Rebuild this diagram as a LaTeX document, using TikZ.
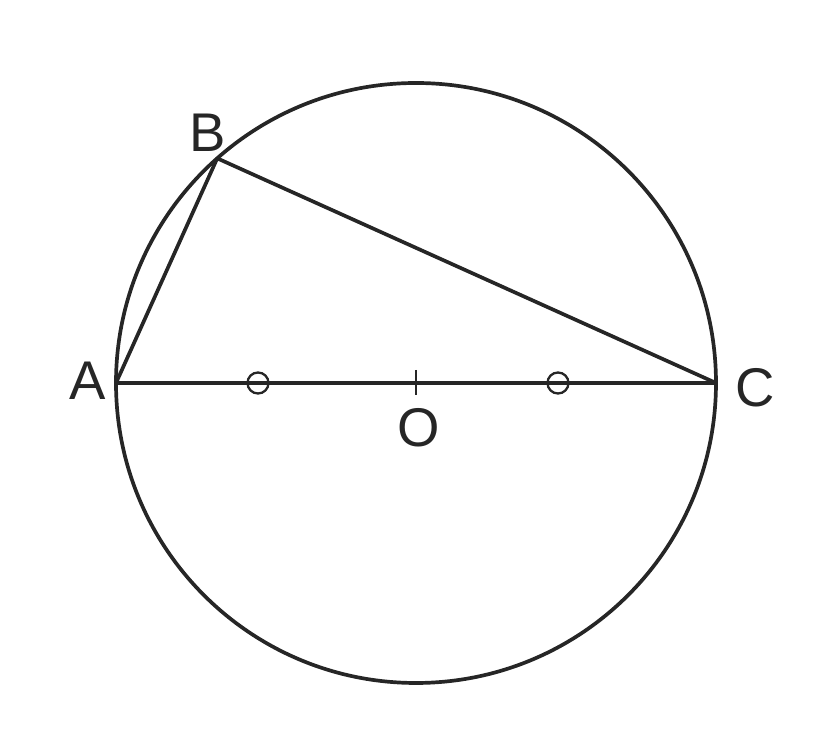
\documentclass[tikz,border=0pt]{standalone}
\usepackage{fontspec}
\setmainfont{Liberation Sans}
\usepackage{tikz}
\usetikzlibrary{positioning}
\definecolor{ink}{rgb}{0.15,0.15,0.15}

\begin{document}
\begin{tikzpicture}[
            x = 0.01cm, y = 0.01cm, % one unit per pixel
            line width = 1.05pt, % line style
            draw = ink,
            lbl/.style = {text = ink, font = \fontsize{15.5}{18}\selectfont, inner sep = 0pt},
            mark circ/.style = {circle, draw = ink, line width = 0.65pt, minimum size = 0.21cm, inner sep = 0pt}
        ]

        \useasboundingbox (0,0) rectangle (838,742);

	% points on the circle
        \coordinate (O) at (416,359);
        \coordinate (A) at (116,359);
        \coordinate (C) at (716,359);
        \coordinate (B) at ([shift={(131.5:300)}]O);

        % circle
        \draw[ink] (O) circle (300);

        % triangle and diameter
        \draw[ink, line join = round] (A) -- (B) -- (C) -- cycle;

        % tick at the centre
        \coordinate (Ot) at (416,372);
        \coordinate (Ob) at (416,347);
        \draw[ink, line width = 0.6pt] (Ot) -- (Ob);

        % equal halves
        \node[mark circ] (M1) at (258,359) {};
        \node[mark circ] (M2) at (558,359) {};

        % labels
        \node[lbl] (LA) at (88,361) {A};
        \node[lbl] (LB) at (208,609) {B};
        \node[lbl] (LC) at (755,354) {C};
        \node[lbl] (LO) at (419,314) {O};

\end{tikzpicture}
\end{document}
